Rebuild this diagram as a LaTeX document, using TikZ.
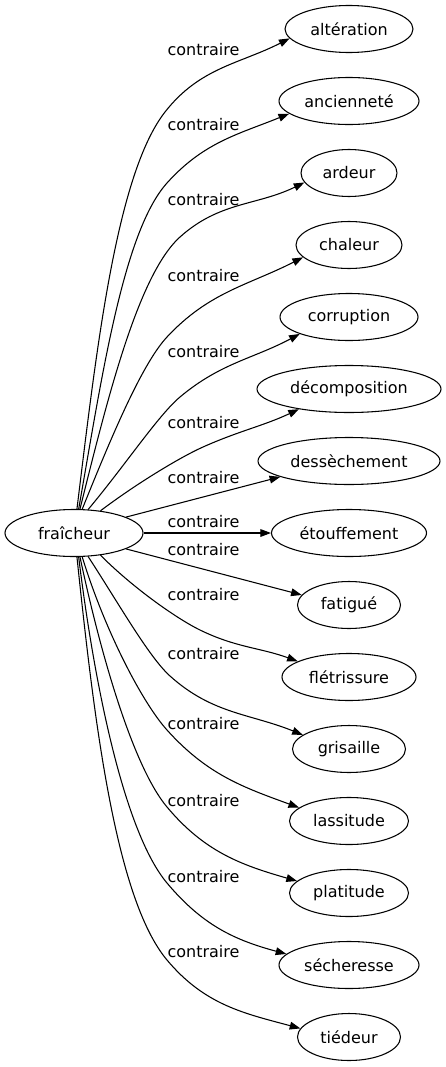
\documentclass[tikz,border=0pt]{standalone}
\usepackage{fontspec}
\setmainfont{DejaVu Sans}
\usetikzlibrary{arrows.meta,shapes.geometric}

\begin{document}
\begin{tikzpicture}
	[x=0.75pt,y=0.75pt,line width=0.8pt,>={Triangle[length=8pt,width=5.8pt]},
	 every node/.style={font=\fontsize{12}{14}\selectfont},
	 word/.style={ellipse,draw,minimum height=35.25pt,inner sep=0pt},
	 rel/.style={inner sep=0pt}]
	\useasboundingbox (0,0) rectangle (446,-1067);
	\node[word,minimum width=103.5pt] (fraicheur) at (74,-533) {fraîcheur};
	\node[word,minimum width=96pt] (alteration) at (349,-29) {altération};
	\node[word,minimum width=105pt] (anciennete) at (349,-101) {ancienneté};
	\node[word,minimum width=72pt] (ardeur) at (349,-173) {ardeur};
	\node[word,minimum width=79.5pt] (chaleur) at (349,-245) {chaleur};
	\node[word,minimum width=103.5pt] (corruption) at (349,-317) {corruption};
	\node[word,minimum width=138pt] (decomposition) at (349,-389) {décomposition};
	\node[word,minimum width=136.5pt] (dessechement) at (349,-461) {dessèchement};
	\node[word,minimum width=116.25pt] (etouffement) at (349,-533) {étouffement};
	\node[word,minimum width=77.25pt] (fatigue) at (349,-605) {fatigué};
	\node[word,minimum width=100.5pt] (fletrissure) at (349,-677) {flétrissure};
	\node[word,minimum width=84.75pt] (grisaille) at (349,-749) {grisaille};
	\node[word,minimum width=89.25pt] (lassitude) at (349,-821) {lassitude};
	\node[word,minimum width=89.25pt] (platitude) at (349,-893) {platitude};
	\node[word,minimum width=105pt] (secheresse) at (349,-965) {sécheresse};
	\node[word,minimum width=77.25pt] (tiedeur) at (349,-1037) {tiédeur};

	\foreach \y [count=\n] in {50,125,200,276,352,423,478,522,550,595,654,724,801,877,952}
		\node[rel] (c\n) at (203.5,-\y) {contraire};

	% curved edges pass near their label
	\foreach \to/\sa/\o/\vx/\vy/\va/\ta/\i [evaluate=\va as \vb using \va+180] in
		{alteration/83/83/165/112/52/189/207, anciennete/79/80/167/183/48/192/202,
		 ardeur/76/76/180/237/42/192/206, chaleur/71/68/167/337/47/195/207,
		 corruption/59/50/180/397/40/199/208, decomposition/40/37/203/447/24/202/205,
		 fletrissure/320/315/200/630/334/163/160, grisaille/301/303/170/676/318/163/158,
		 lassitude/289/287/167/730/312/165/160, platitude/284/282/167/807/310/167/164,
		 secheresse/281/277/167/883/310/170/165, tiedeur/277/276/167/960/310/170/165}
		\draw[->] (fraicheur.\sa) to[out=\o,in=\vb,in looseness=.5] (\vx,-\vy)
			to[out=\va,in=\i] (\to.\ta);
	\draw[->] (fraicheur.17) -- (dessechement.193);
	\draw[->] (fraicheur) -- (etouffement);
	\draw[->] (fraicheur.343) -- (fatigue.168);
\end{tikzpicture}
\end{document}
